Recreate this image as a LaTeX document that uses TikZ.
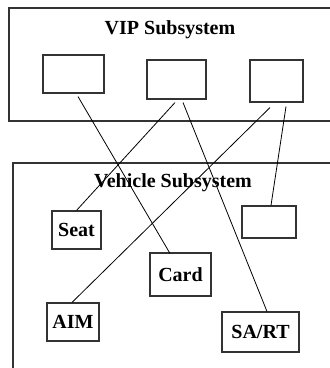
\documentclass[tikz,border=0pt]{standalone}
\usepackage{fontspec}
\setmainfont{Liberation Serif}
\begin{document}
\begin{tikzpicture}[x=1pt,y=-1pt,
  frame/.style={draw=black!80,line width=1.2pt},
  part/.style={draw=black!80,line width=1.1pt,fill=white,inner sep=0pt,
    font=\fontsize{20}{22}\selectfont\bfseries},
  title/.style={font=\fontsize{20}{22}\selectfont\bfseries,inner sep=0pt},
  link/.style={draw=black,line width=0.8pt}]
\useasboundingbox (0,0) rectangle (330,368);
\clip (0,0) rectangle (330,368);

% subsystem frames
\draw[frame] (340,8) -- (9,8) -- (9,121) -- (340,121);
\draw[frame] (340,163) -- (13,163) -- (13,380);
\node[title] (vip) at (170,30) {VIP Subsystem};

% VIP components
\node[part,minimum width=61pt,minimum height=38pt] (b1) at (73.5,74) {};
\node[part,minimum width=59pt,minimum height=39pt] (b2) at (176.5,79.5) {};
\node[part,minimum width=53pt,minimum height=42pt] (b3) at (276.5,81) {};

% vehicle components
\node[part,minimum width=49pt,minimum height=38pt] (seat) at (76.5,230) {Seat};
\node[part,minimum width=61pt,minimum height=43pt] (card) at (180.5,274.5) {Card};
\node[part,minimum width=52pt,minimum height=38pt] (aim) at (73,322) {AIM};
\node[part,minimum width=77pt,minimum height=40pt] (sart) at (260.5,332) {SA/RT};
\node[part,minimum width=54pt,minimum height=32pt] (blank) at (269,222) {};

% links between the subsystems
\draw[link] ([xshift=4.5pt,yshift=-3pt]b1.south) -- ([xshift=-10.5pt,yshift=-1pt]card.north);
\draw[link] ([xshift=-1.5pt,yshift=-3pt]b2.south) -- (seat.north);
\draw[link] ([xshift=6.5pt,yshift=-3pt]b2.south) -- ([xshift=6.5pt]sart.north);
\draw[link] ([xshift=-6.5pt,yshift=-5pt]b3.south) -- ([xshift=-1pt]aim.north);
\draw[link] ([xshift=9.5pt,yshift=-4pt]b3.south) -- ([xshift=2pt]blank.north);

\node[title] (veh) at (173,183) {Vehicle Subsystem};
\end{tikzpicture}
\end{document}
